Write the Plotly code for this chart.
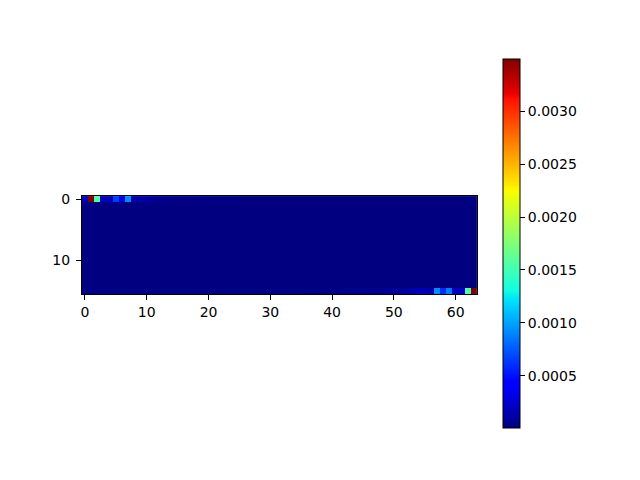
import plotly.graph_objects as go

n_cols = 64
n_rows = 16

# first row values (row 0)
row_top = [0.00022, 0.00349, 0.00155, 0.00018, 0.00020, 0.00066, 0.00032, 0.00093,
           0.00016, 0.00014, 0.00012, 0.00008, 0.00007, 0.00006, 0.00005, 0.00005,
           0.00004, 0.00004, 0.00004, 0.00003, 0.00003, 0.00003, 0.00003, 0.00003,
           0.00002, 0.00002, 0.00002, 0.00002, 0.00002, 0.00002, 0.00002, 0.00002,
           0.00002, 0.00002, 0.00002, 0.00002, 0.00002, 0.00002, 0.00002, 0.00002,
           0.00002, 0.00002, 0.00002, 0.00002, 0.00002, 0.00002, 0.00002, 0.00002,
           0.00002, 0.00002, 0.00002, 0.00002, 0.00002, 0.00002, 0.00002, 0.00002,
           0.00002, 0.00002, 0.00002, 0.00002, 0.00002, 0.00002, 0.00002, 0.00002]
# last row values (row 15)
row_bottom = [0.00002, 0.00002, 0.00002, 0.00002, 0.00002, 0.00002, 0.00002, 0.00002,
              0.00002, 0.00002, 0.00002, 0.00002, 0.00002, 0.00002, 0.00002, 0.00002,
              0.00002, 0.00002, 0.00002, 0.00002, 0.00002, 0.00002, 0.00002, 0.00002,
              0.00002, 0.00002, 0.00002, 0.00002, 0.00002, 0.00002, 0.00002, 0.00002,
              0.00002, 0.00002, 0.00002, 0.00002, 0.00002, 0.00003, 0.00003, 0.00003,
              0.00003, 0.00003, 0.00004, 0.00004, 0.00004, 0.00005, 0.00005, 0.00006,
              0.00006, 0.00007, 0.00008, 0.00009, 0.00011, 0.00014, 0.00018, 0.00017,
              0.00015, 0.00093, 0.00060, 0.00087, 0.00020, 0.00022, 0.00155, 0.00349]
# value of the interior rows (1..14)
interior_value = 0.000011

z_min = 0.000011
z_max = 0.003496

cbar_ticks = [0.0005, 0.0010, 0.0015, 0.0020, 0.0025, 0.0030]
cbar_labels = ["0.0005", "0.0010", "0.0015", "0.0020", "0.0025", "0.0030"]
x_ticks = [0, 10, 20, 30, 40, 50, 60]
y_ticks = [0, 10]

z = [row_top] + [[interior_value] * n_cols for _ in range(n_rows - 2)] + [row_bottom]

jet = [
    [0.0, "rgb(0,0,128)"],
    [0.11, "rgb(0,0,255)"],
    [0.125, "rgb(0,0,255)"],
    [0.34, "rgb(0,219,255)"],
    [0.35, "rgb(0,229,246)"],
    [0.375, "rgb(20,255,226)"],
    [0.64, "rgb(246,255,0)"],
    [0.65, "rgb(255,244,0)"],
    [0.66, "rgb(255,232,0)"],
    [0.89, "rgb(255,18,0)"],
    [0.91, "rgb(228,0,0)"],
    [1.0, "rgb(128,0,0)"],
]

FONT = dict(family="DejaVu Sans", size=14, color="black")

W, H = 640, 480
off = 8  # page body margin in the browser
ax_l, ax_r, ax_t, ax_b = 81 - off, 477 - off, 193 - off, 292 - off
cb_l, cb_w, cb_t, cb_b = 503 - off, 17, 58 - off - 4, 427 - off

fig = go.Figure(go.Heatmap(
    z=z,
    x=list(range(n_cols)),
    y=list(range(n_rows)),
    zmin=z_min, zmax=z_max,
    colorscale=jet,
    colorbar=dict(
        x=cb_l / W, xanchor="left",
        y=1 - cb_b / H, yanchor="bottom",
        len=(cb_b - cb_t) / H, lenmode="fraction",
        thickness=cb_w, thicknessmode="pixels",
        outlinewidth=1, outlinecolor="black",
        ticks="outside", ticklen=5, tickwidth=0.8, tickcolor="black",
        tickvals=cbar_ticks, ticktext=cbar_labels,
        tickfont=FONT,
        xpad=0, ypad=0,
    ),
))

axis_common = dict(
    showgrid=False, zeroline=False,
    showline=True, linecolor="black", linewidth=1, mirror=True,
    ticks="outside", ticklen=5, tickwidth=0.8, tickcolor="black",
    tickfont=FONT,
)

fig.update_layout(
    width=W, height=H,
    margin=dict(l=0, r=0, t=0, b=0),
    paper_bgcolor="white", plot_bgcolor="white",
    font=FONT,
    xaxis=dict(domain=[ax_l / W, ax_r / W], range=[-0.5, n_cols - 0.5],
               tickvals=x_ticks, **axis_common),
    yaxis=dict(domain=[1 - ax_b / H, 1 - ax_t / H], range=[n_rows - 0.5, -0.5],
               tickvals=y_ticks, ticklabelstandoff=3, **axis_common),
)

fig.write_html("out.html")
